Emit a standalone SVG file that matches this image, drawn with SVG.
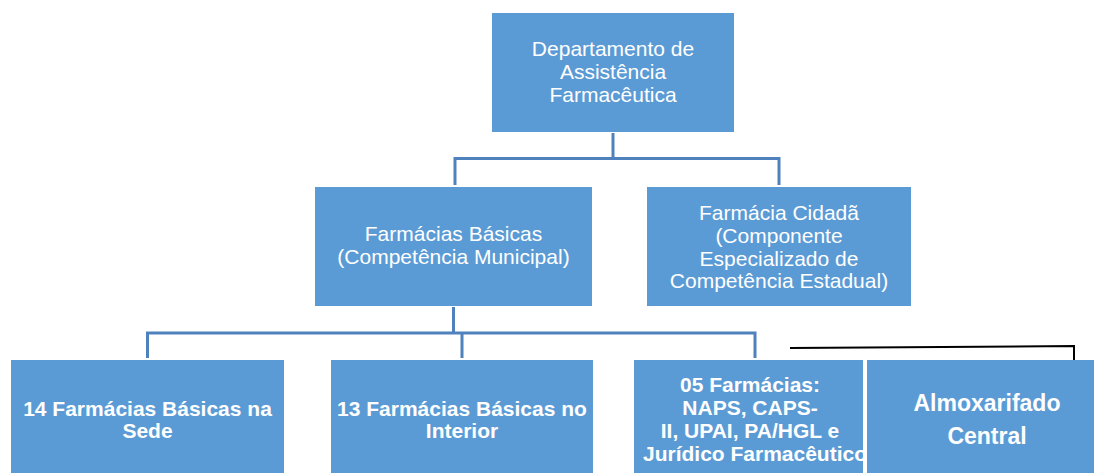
<svg xmlns="http://www.w3.org/2000/svg" width="1094" height="473" viewBox="0 0 1094 473">
<defs>
<style>
.box{fill:#5b9bd5;}
.t{font-family:"Liberation Sans",Arial,sans-serif;fill:#ffffff;text-anchor:middle;font-size:21px;}
.b{font-weight:bold;}
.c{fill:none;stroke:#4f81bd;stroke-width:3;}
.k{fill:none;stroke:#000000;stroke-width:2;}
</style>
<clipPath id="clipF"><rect x="634" y="360" width="229" height="113"/></clipPath>
</defs>
<rect width="1094" height="473" fill="#ffffff"/>
<g id="connectors">
<path class="c" d="M613 133 V158.5 M455 158.5 H779 M455 157 V185 M779 157 V185"/>
<path class="c" d="M453.5 307 V333 M147.5 333 H755 M147.5 331.5 V358 M462 331.5 V358 M755 331.5 V358"/>
<path class="k" d="M790 348 L1074 346 V373"/>
</g>
<g id="n-dept">
<rect class="box" x="492" y="13" width="242" height="119"/>
<text class="t" x="613" y="56">Departamento de</text>
<text class="t" x="613" y="79">Assistência</text>
<text class="t" x="613" y="102">Farmacêutica</text>
</g>
<g id="n-basicas">
<rect class="box" x="315" y="187" width="277" height="119"/>
<text class="t" x="453.5" y="241">Farmácias Básicas</text>
<text class="t" x="453.5" y="264">(Competência Municipal)</text>
</g>
<g id="n-cidada">
<rect class="box" x="647" y="187" width="264" height="119"/>
<text class="t" x="779" y="220">Farmácia Cidadã</text>
<text class="t" x="779" y="243">(Componente</text>
<text class="t" x="779" y="266">Especializado de</text>
<text class="t" x="779" y="288">Competência Estadual)</text>
</g>
<g id="n-sede">
<rect class="box" x="11" y="360" width="273" height="113"/>
<text class="t b" x="147.5" y="416">14 Farmácias Básicas na</text>
<text class="t b" x="147.5" y="438">Sede</text>
</g>
<g id="n-interior">
<rect class="box" x="331" y="360" width="262" height="113"/>
<text class="t b" x="462" y="416">13 Farmácias Básicas no</text>
<text class="t b" x="462" y="438">Interior</text>
</g>
<g id="n-05">
<rect class="box" x="634" y="360" width="229" height="113"/>
<g clip-path="url(#clipF)">
<text class="t b" x="750" y="392">05 Farmácias:</text>
<text class="t b" x="750" y="415">NAPS, CAPS-</text>
<text class="t b" x="750" y="438">II, UPAI, PA/HGL e</text>
<text class="t b" x="755" y="461">Jurídico Farmacêutico</text>
</g>
</g>
<g id="n-almox">
<rect class="box" x="867" y="360" width="227" height="113"/>
<text class="t b" x="987" y="411" style="font-size:23px">Almoxarifado</text>
<text class="t b" x="987" y="444" style="font-size:23px">Central</text>
</g>
</svg>
